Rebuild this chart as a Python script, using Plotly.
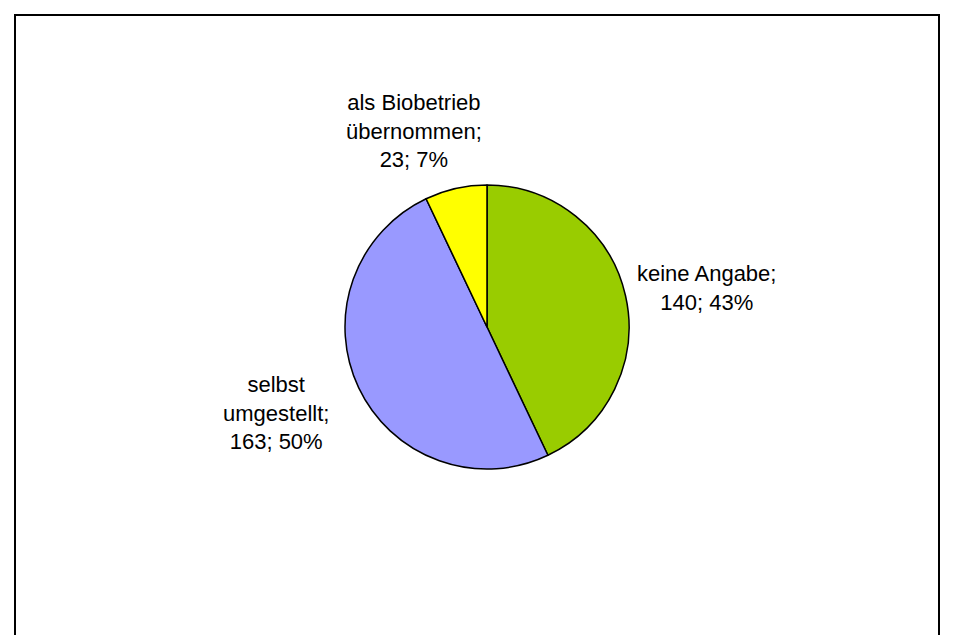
import math
import plotly.graph_objects as go

# Survey answers: how the farm became organic
categories = ["keine Angabe", "selbst umgestellt", "als Biobetrieb übernommen"]
label_lines = ["keine Angabe;", "selbst<br>umgestellt;", "als Biobetrieb<br>übernommen;"]
counts = [140, 163, 23]
colors = ["#99CC00", "#9999FF", "#FFFF00"]

W, H = 953, 635
CX, CY, R = 487, 327, 142          # pie centre and radius in pixels
# fine adjustments (pixels, right / down) of each data label
label_nudge = [(-2, -5), (-17, -23), (-39, -3)]

fig = go.Figure(
    go.Pie(
        labels=categories,
        values=counts,
        sort=False,
        direction="clockwise",
        rotation=0,
        marker=dict(colors=colors, line=dict(color="black", width=1.5)),
        textinfo="none",
        hoverinfo="skip",
        showlegend=False,
        domain=dict(x=[(CX - R) / W, (CX + R) / W],
                    y=[1 - (CY + R) / H, 1 - (CY - R) / H]),
    )
)

# data labels placed just outside each slice at its mid angle
total = sum(counts)
cum = 0
for name, lines, n, (nx, ny) in zip(categories, label_lines, counts, label_nudge):
    mid = (cum + n / 2) / total * 2 * math.pi
    cum += n
    dx, dy_up = math.sin(mid), math.cos(mid)
    rl = R * 1.08
    px = CX + rl * dx
    py = CY - rl * dy_up
    xa = "left" if dx > 0.3 else ("right" if dx < -0.3 else "center")
    ya = "bottom" if dy_up > 0.3 else ("top" if dy_up < -0.3 else "middle")
    pct = round(n / total * 100)
    fig.add_annotation(
        x=px / W, y=1 - py / H, xref="paper", yref="paper",
        xanchor=xa, yanchor=ya, xshift=nx, yshift=-ny,
        text=f"{lines}<br>{n}; {pct}%",
        showarrow=False, align="center",
        font=dict(family="Liberation Sans, Arial, sans-serif", size=22, color="black"),
    )

# chart area frame
fig.add_shape(type="rect", xref="paper", yref="paper",
              x0=15 / W, x1=939 / W, y0=-0.05, y1=1 - 15 / H,
              line=dict(color="black", width=2), fillcolor="rgba(0,0,0,0)")

fig.update_layout(
    width=W, height=H,
    margin=dict(l=0, r=0, t=0, b=0),
    paper_bgcolor="white", plot_bgcolor="white",
)

fig.write_html("out.html")
